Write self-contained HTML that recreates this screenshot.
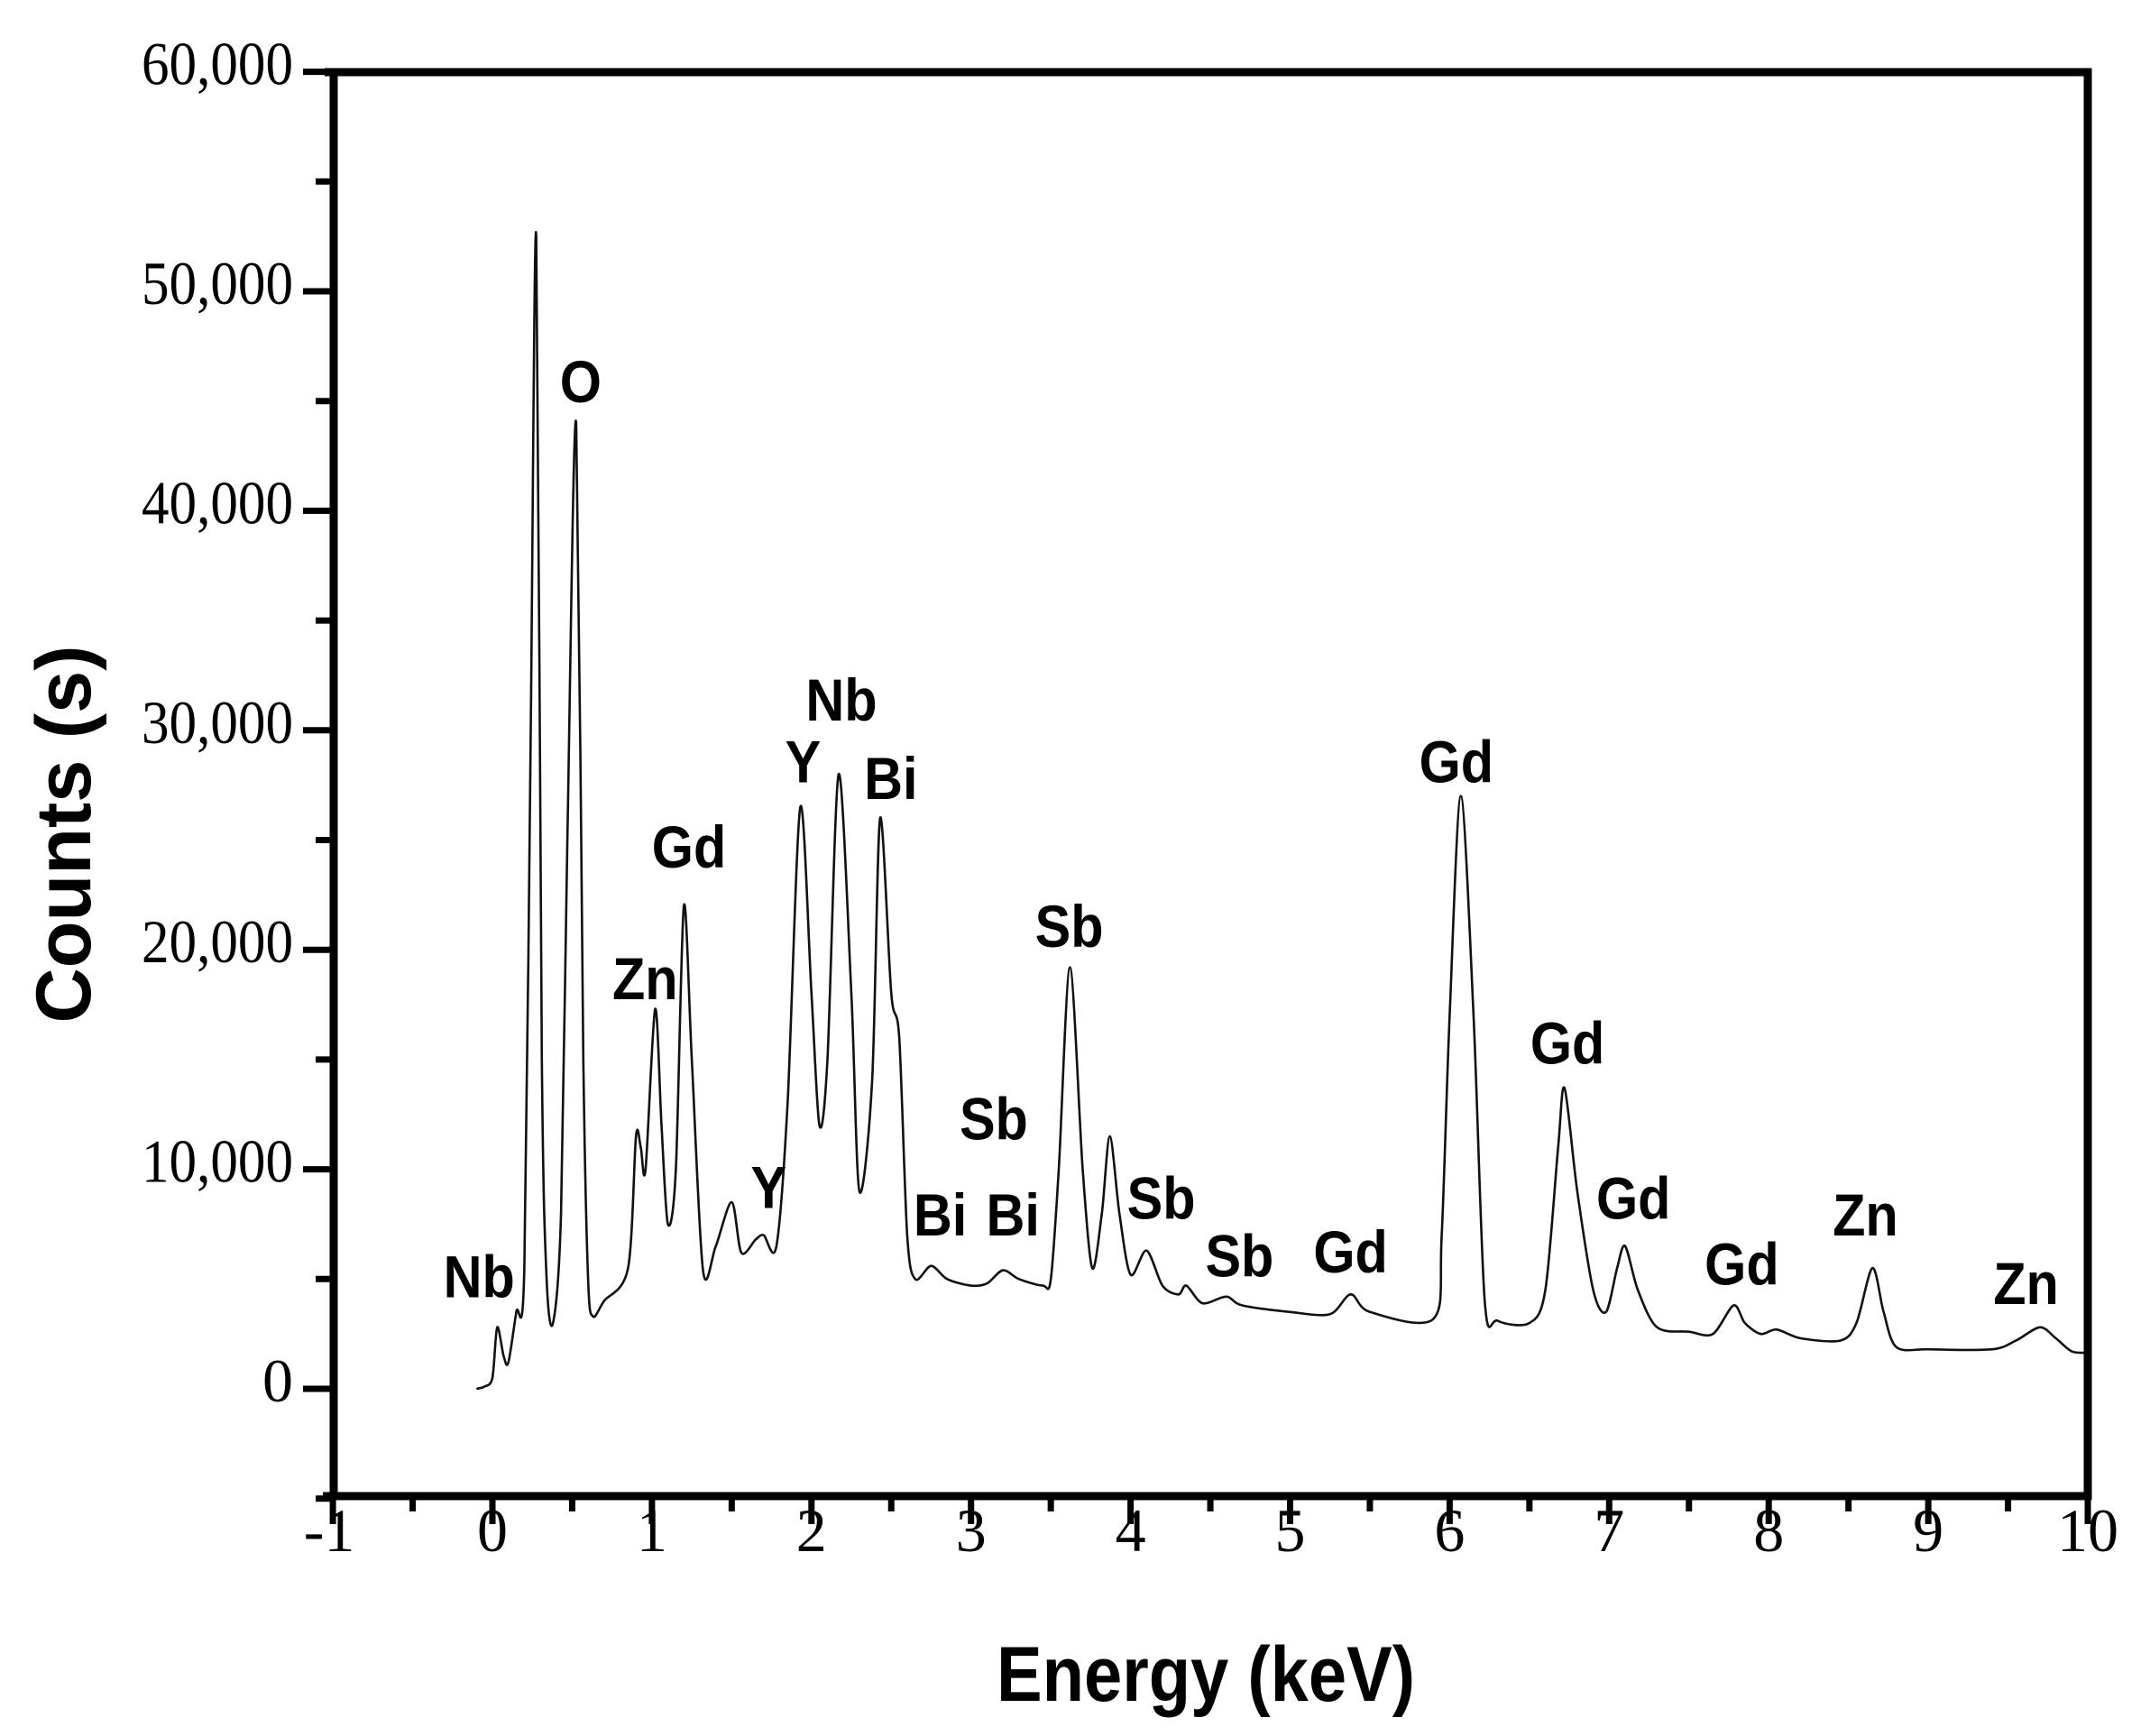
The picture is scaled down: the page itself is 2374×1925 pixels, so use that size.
<!DOCTYPE html>
<html><head><meta charset="utf-8"><style>
html,body{margin:0;padding:0;background:#fff;}
svg{display:block;}
.lb{font-family:"Liberation Sans",Arial,sans-serif;font-weight:bold;font-size:66px;fill:#000;}
.tk{font-family:"Liberation Serif",serif;font-size:68px;fill:#000;}
</style></head><body>
<svg id="s" width="2374" height="1925" viewBox="0 0 2374 1925" xmlns="http://www.w3.org/2000/svg">
<rect width="2374" height="1925" fill="#fff"/>
<g id="ticks" stroke="#000" stroke-width="7" fill="none"></g>
<path id="spec" fill="none" stroke="#111" stroke-width="2.6" stroke-linejoin="round"/>
<g fill="none" stroke="#000" stroke-width="9">
<line x1="360" y1="80" x2="2319" y2="80"/>
<line x1="370" y1="76" x2="370" y2="1663"/>
<line x1="2315" y1="76" x2="2315" y2="1663"/>
<line x1="358" y1="1659" x2="2319" y2="1659"/>
</g>
<g id="ylab" class="tk" text-anchor="end"></g>
<g id="xlab" class="tk" text-anchor="middle"></g>
<text class="lb" style="font-size:86px" x="1337" y="1886" text-anchor="middle" textLength="464" lengthAdjust="spacingAndGlyphs">Energy (keV)</text>
<text class="lb" style="font-size:86px" transform="translate(100,925) rotate(-90)" text-anchor="middle" textLength="419" lengthAdjust="spacingAndGlyphs">Counts (s)</text>
<g id="labels"></g>
</svg>
<script>
var X=function(e){return 546+176.9*e;}, Y=function(c){return 1540-c*0.02434;};
var ns="http://www.w3.org/2000/svg";
var tg=document.getElementById('ticks');
function ln(x1,y1,x2,y2){var l=document.createElementNS(ns,'line');l.setAttribute('x1',x1);l.setAttribute('y1',y1);l.setAttribute('x2',x2);l.setAttribute('y2',y2);tg.appendChild(l);}
for(var c=-5000;c<=60000;c+=5000){var y=Y(c);ln(c%10000==0?336:350,y,370,y);}
for(var e=-1;e<=10;e+=0.5){var x=X(e);ln(x,1659,x,Math.abs(e-Math.round(e))<0.01?1690:1676);}
var yl=document.getElementById('ylab');
for(var c=0;c<=60000;c+=10000){var t=document.createElementNS(ns,'text');t.setAttribute('x',325);t.setAttribute('y',Y(c)+14);
var s=c==0?'0':(c/1000)+',000';t.textContent=s;if(c>0){t.setAttribute('textLength',c>=10000?168:110);t.setAttribute('lengthAdjust','spacingAndGlyphs');}yl.appendChild(t);}
var xl=document.getElementById('xlab');
for(var e=-1;e<=10;e++){var t=document.createElementNS(ns,'text');t.setAttribute('x',X(e)-(e==-1?4:0));t.setAttribute('y',1720);t.textContent=String(e);xl.appendChild(t);}
var d=[[-0.1,0],[-0.05,100],[0,500],[0.03,2800],[0.07,1500],[0.1,1200],[0.15,3500],[0.2,5500],[0.24,30000],[0.275,52500],[0.31,15000],[0.34,5000],[0.38,3000],[0.43,8000],[0.47,25000],[0.525,44000],[0.57,15000],[0.6,5000],[0.63,3300],[0.7,4000],[0.85,5500],[0.9,11500],[0.93,11000],[0.96,10000],[1.02,17300],[1.06,12000],[1.1,7500],[1.15,10000],[1.2,22000],[1.25,15000],[1.32,5400],[1.4,6500],[1.5,8500],[1.56,6200],[1.65,6800],[1.7,7000],[1.78,6500],[1.85,13000],[1.93,26500],[2.0,18000],[2.05,12000],[2.1,15000],[2.17,28000],[2.25,18000],[2.3,9000],[2.38,14000],[2.43,26000],[2.5,18000],[2.55,16000],[2.6,7000],[2.65,5000],[2.75,5600],[2.85,5000],[3.0,4700],[3.1,4800],[3.2,5400],[3.3,5000],[3.45,4700],[3.5,5000],[3.55,10000],[3.62,19200],[3.7,10000],[3.76,5500],[3.82,8000],[3.87,11500],[3.93,8000],[4.0,5200],[4.1,6300],[4.2,4700],[4.3,4300],[4.35,4700],[4.45,3900],[4.6,4200],[4.7,3800],[5.0,3500],[5.25,3400],[5.38,4300],[5.5,3500],[5.9,3200],[5.95,7000],[6.0,17000],[6.07,27000],[6.15,17000],[6.22,4000],[6.3,3100],[6.5,3000],[6.6,4500],[6.68,11000],[6.72,13700],[6.8,9000],[6.9,4500],[6.98,3500],[7.05,5500],[7.1,6500],[7.18,4500],[7.3,2800],[7.5,2600],[7.65,2500],[7.78,3800],[7.85,3000],[7.95,2500],[8.05,2700],[8.2,2300],[8.45,2200],[8.55,3000],[8.65,5500],[8.72,3500],[8.8,1900],[9.0,1800],[9.4,1800],[9.55,2200],[9.7,2800],[9.8,2300],[9.9,1700],[10.0,1650]];
var p=d.map(function(a){return [X(a[0]),Y(a[1])];});
var s='M'+p[0][0].toFixed(1)+' '+p[0][1].toFixed(1);
for(var i=0;i<p.length-1;i++){var p0=p[Math.max(0,i-1)],p1=p[i],p2=p[i+1],p3=p[Math.min(p.length-1,i+2)];
var k=0.15;var c1=[p1[0]+(p2[0]-p0[0])*k,p1[1]+(p2[1]-p0[1])*k],c2=[p2[0]-(p3[0]-p1[0])*k,p2[1]-(p3[1]-p1[1])*k];
s+=' C'+c1[0].toFixed(1)+' '+c1[1].toFixed(1)+' '+c2[0].toFixed(1)+' '+c2[1].toFixed(1)+' '+p2[0].toFixed(1)+' '+p2[1].toFixed(1);}
document.getElementById('spec').setAttribute('d',s);
var L=[["Nb",349,945],["O",423,293],["Zn",470,728],["Gd",502,632],["Y",560,880],["Y",585,570],["Nb",613,525],["Bi",649,582],["Bi",685,900],["Sb",724,830],["Bi",738,900],["Sb",779,690],["Sb",846,888],["Sb",903,930],["Gd",984,927],["Gd",1061,570],["Gd",1142,775],["Gd",1190,888],["Gd",1269,936],["Zn",1359,900],["Zn",1476,950]];
var lg=document.getElementById('labels');
L.forEach(function(a){var t=document.createElementNS(ns,'text');t.setAttribute('class','lb');t.setAttribute('text-anchor','middle');
t.setAttribute('transform','translate('+(a[1]*1.522).toFixed(1)+','+(a[2]*1.522).toFixed(1)+') scale(0.9,1)');t.textContent=a[0];lg.appendChild(t);});
</script>
</body></html>
